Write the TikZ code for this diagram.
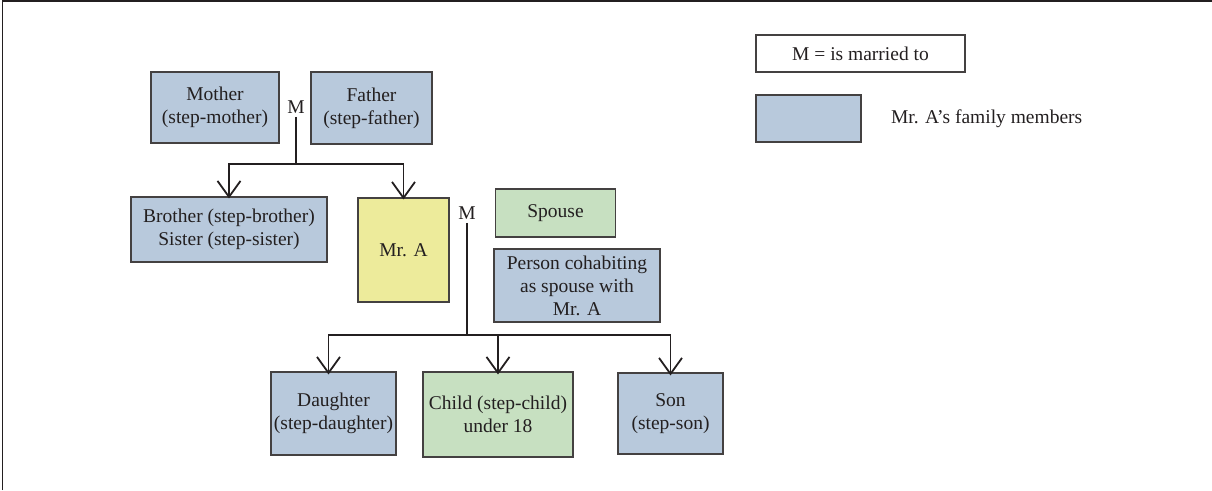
\documentclass[tikz,border=0pt]{standalone}
\usepackage{fontspec}
\setmainfont{Liberation Serif}
\usepackage{tikz}
\usetikzlibrary{arrows.meta, positioning}
\definecolor{famBlue}{HTML}{B8C9DC}
\definecolor{famGreen}{HTML}{C7E0C1}
\definecolor{famYellow}{HTML}{EDEB9B}
\definecolor{famLine}{HTML}{231F20}

\begin{document}
\begin{tikzpicture}[
  x=1pt, y=-1pt,
  every node/.style={font=\fontsize{19.5}{23}\selectfont, text=famLine},
  famblue/.style={
    rectangle, draw=famLine!85, fill=famBlue, line width=1.1pt,
    align=center, inner sep=0pt,
  },
  famgreen/.style={famblue, fill=famGreen},
  famyellow/.style={famblue, fill=famYellow},
  keybox/.style={famblue, fill=white},
  link/.style={famLine, line width=1.6pt},
  descend/.style={link, -{Straight Barb[length=16pt, width=23pt, line width=1.8pt]}},
]
\useasboundingbox (0,0) rectangle (1212,490);

% frame
\draw[famLine, line width=1.8pt] (2.5,490) -- (2.5,1) -- (1212,1);

% parents
\node[famblue, minimum width=128pt, minimum height=71pt] (mother) at (215,107.5) {Mother\\(step-mother)};
\node[famblue, minimum width=121pt, minimum height=72pt] (father) at (371.5,108) {Father\\(step-father)};
\node (m1) at (296,107) {M};
\coordinate (jun1) at (296,164);

% siblings and Mr. A
\node[famblue, minimum width=196pt, minimum height=65pt] (sibling) at (229,229.5) {Brother (step-brother)\\Sister (step-sister)};
\node[famyellow, minimum width=91pt, minimum height=104pt] (mra) at (403.5,250) {Mr. A};
\node (m2) at (467,213) {M};
\coordinate (jun2) at (467,335);

% partners
\node[famgreen, minimum width=120pt, minimum height=48pt] (spouse) at (555.5,213) {Spouse};
\node[famblue, minimum width=166pt, minimum height=73pt] (cohab) at (577,285.5) {Person cohabiting\\as spouse with\\Mr. A};

% children
\node[famblue, minimum width=125pt, minimum height=83pt] (daughter) at (333.5,413.5) {Daughter\\(step-daughter)};
\node[famgreen, minimum width=150pt, minimum height=85pt] (child) at (498,414.5) {Child (step-child)\\under 18};
\node[famblue, minimum width=105pt, minimum height=81pt] (son) at (670.5,413.5) {Son\\(step-son)};

% connectors
\draw[link] (m1.south) -- (jun1);
\draw[descend] (jun1) -| ([yshift=-2pt]sibling.north);
\draw[descend] (jun1) -| ([yshift=-2pt]mra.north);
\draw[link] (m2.south) -- (jun2);
\draw[descend] (jun2) -| ([xshift=-5pt, yshift=-3pt]daughter.north);
\draw[descend] (jun2) -| ([yshift=-3pt]child.north);
\draw[descend] (jun2) -| ([yshift=-3pt]son.north);

% key
\node[keybox, minimum width=209pt, minimum height=37pt] (keym) at (860.5,53.5) {M = is married to};
\node[famblue, minimum width=105pt, minimum height=47pt] (keyblue) at (808.5,118.5) {};
\node[right=26pt of keyblue] (keytext) {Mr. A’s family members};

\end{tikzpicture}
\end{document}
